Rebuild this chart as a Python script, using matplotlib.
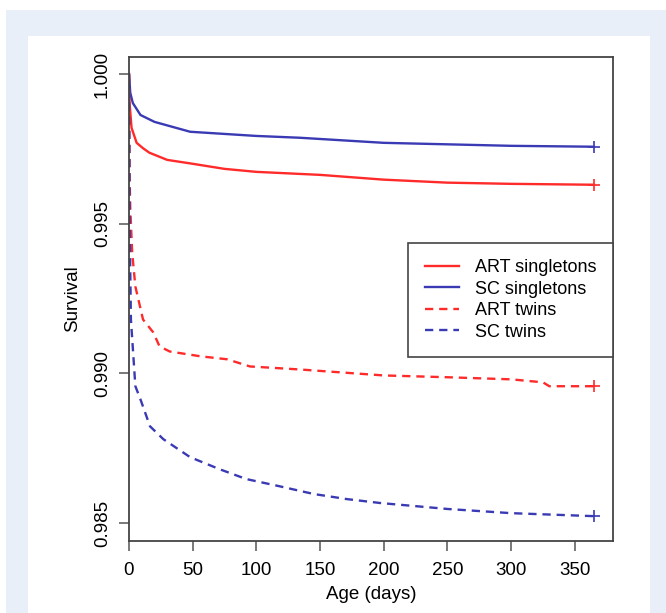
import matplotlib.pyplot as plt
import matplotlib
from matplotlib.patches import Rectangle

matplotlib.rcParams['font.family'] = ['Liberation Sans', 'DejaVu Sans']

# Kaplan-Meier survival estimates
ART_SING_DAYS = [0, 0.5, 2, 6, 11, 16, 30, 50, 75, 100, 150, 200, 250, 300, 365]
ART_SING_SURV = [1.0, 0.9990, 0.9982, 0.9977, 0.99752, 0.99737, 0.99713, 0.99700, 0.99683,
                 0.99673, 0.99663, 0.99647, 0.99637, 0.99633, 0.99630]

SC_SING_DAYS = [0, 1, 3, 9, 20, 48, 100, 134, 200, 300, 365]
SC_SING_SURV = [1.0, 0.99937, 0.99903, 0.99863, 0.99840, 0.99807, 0.99793, 0.99787,
                0.99770, 0.99760, 0.99757]

ART_TWIN_DAYS = [0, 0.5, 1, 2.5, 5, 11, 19, 24, 32, 56, 77, 95, 134, 200, 250, 300, 325, 330, 365]
ART_TWIN_SURV = [1.0, 0.9965, 0.9955, 0.99403, 0.9929, 0.9918, 0.99137, 0.9909, 0.99073,
                 0.99057, 0.99047, 0.99023, 0.99013, 0.98993, 0.98987, 0.98980, 0.98970,
                 0.98957, 0.98957]

SC_TWIN_DAYS = [0, 0.5, 1.5, 5, 9, 16.5, 27, 48, 71, 92, 118, 145, 171, 197, 250, 300, 365]
SC_TWIN_SURV = [1.0, 0.9950, 0.9918, 0.98957, 0.98913, 0.98823, 0.98780, 0.98720, 0.98680,
                0.98647, 0.98623, 0.98597, 0.98580, 0.98567, 0.98547, 0.98533, 0.98523]

RED = '#ff2a2a'
BLUE = '#3a3ab4'


def main():
    fig = plt.figure(figsize=(6.66, 6.13), dpi=100)
    # page background: light blue band with a white panel
    fig.patches.append(Rectangle((6 / 666, 0), 660 / 666, 1 - 10 / 613, transform=fig.transFigure,
                                 facecolor='#e8eff8', edgecolor='none', zorder=-10))
    fig.patches.append(Rectangle((28 / 666, 0), 622 / 666, 1 - 36 / 613, transform=fig.transFigure,
                                 facecolor='white', edgecolor='none', zorder=-9))

    ax = fig.add_axes([129 / 666, 1 - 541 / 613, 484 / 666, 484 / 613])
    ax.patch.set_alpha(0)

    ax.plot(ART_SING_DAYS, ART_SING_SURV, color=RED, lw=1.7, label='ART singletons')
    ax.plot(SC_SING_DAYS, SC_SING_SURV, color=BLUE, lw=1.7, label='SC singletons')
    ax.plot(ART_TWIN_DAYS, ART_TWIN_SURV, color=RED, lw=1.7, ls=(0, (3.5, 2.5)), label='ART twins')
    ax.plot(SC_TWIN_DAYS, SC_TWIN_SURV, color=BLUE, lw=1.7, ls=(0, (3.5, 2.5)), label='SC twins')

    # censoring marks at end of follow-up
    for days, surv, c in [(ART_SING_DAYS, ART_SING_SURV, RED), (SC_SING_DAYS, SC_SING_SURV, BLUE),
                          (ART_TWIN_DAYS, ART_TWIN_SURV, RED), (SC_TWIN_DAYS, SC_TWIN_SURV, BLUE)]:
        ax.plot(days[-1], surv[-1], marker='+', color=c, ms=8, mew=1.2)

    ax.set_xlim(0, 380)
    ax.set_ylim(0.98440, 1.000567)
    ax.set_xticks([0, 50, 100, 150, 200, 250, 300, 350])
    ax.set_yticks([0.985, 0.990, 0.995, 1.000])
    ax.set_yticklabels(['0.985', '0.990', '0.995', '1.000'], rotation=90, va='center')
    ax.tick_params(direction='out', length=7, width=1.1, color='#555555', labelsize=13.5)
    ax.tick_params(axis='x', pad=8)
    ax.tick_params(axis='y', pad=6)

    for s in ax.spines.values():
        s.set_color('#444444')
        s.set_linewidth(1.3)

    ax.set_xlabel('Age (days)', fontsize=13.5, labelpad=5)
    ax.set_ylabel('Survival', fontsize=13.5, labelpad=9)

    leg = ax.legend(loc='upper right', bbox_to_anchor=(1.0, 0.6157), fontsize=13, fancybox=False,
                    framealpha=1, edgecolor='#444444', handlelength=1.9, handletextpad=0.9,
                    labelspacing=0.25, borderpad=0.9, borderaxespad=0)
    leg.get_frame().set_linewidth(1.2)

    fig.savefig('out.png', dpi=100)


if __name__ == '__main__':
    main()
